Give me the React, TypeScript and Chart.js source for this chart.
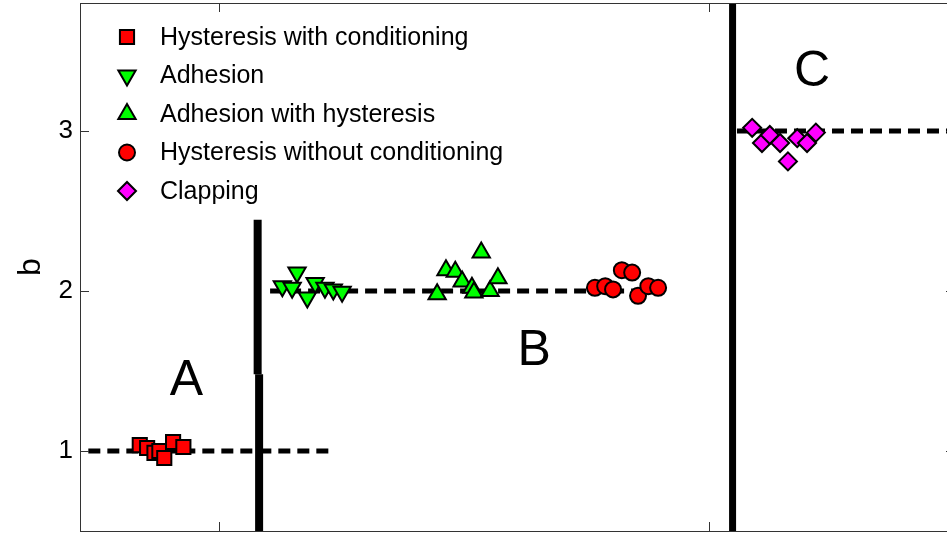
import React, { useEffect, useRef } from 'react';
import { Chart, registerables } from 'chart.js';
import { drawPoint } from 'chart.js/helpers';

Chart.register(...registerables);

// ---------- data ----------
const SERIES_NAMES = [
  'Hysteresis with conditioning',
  'Adhesion',
  'Adhesion with hysteresis',
  'Hysteresis without conditioning',
  'Clapping',
];

const hystCondX = [0.838, 0.853, 0.868, 0.878, 0.888, 0.906, 0.927];
const hystCondY = [1.037, 1.019, 0.988, 1.0, 0.956, 1.056, 1.025];

const adhesionX = [1.129, 1.159, 1.149, 1.180, 1.196, 1.216, 1.233, 1.251];
const adhesionY = [2.03, 2.115, 2.02, 1.96, 2.05, 2.02, 2.01, 1.995];

const adhHystX = [1.445, 1.463, 1.482, 1.496, 1.516, 1.520, 1.535, 1.553, 1.569];
const adhHystY = [1.98, 2.13, 2.12, 2.06, 2.02, 1.99, 2.24, 2.0, 2.08];

const hystNoCondX = [1.767, 1.788, 1.804, 1.822, 1.843, 1.855, 1.876, 1.896];
const hystNoCondY = [2.02, 2.03, 2.01, 2.13, 2.115, 1.97, 2.03, 2.02];

const clappingX = [2.088, 2.108, 2.124, 2.145, 2.161, 2.180, 2.200, 2.218];
const clappingY = [3.02, 2.925, 2.975, 2.925, 2.81, 2.955, 2.925, 2.99];

// reference (dashed) levels: [xStart, xEnd, level]
const levelA = [0.733, 1.227, 1];
const levelB = [1.104, 1.904, 2];
const levelC = [2.057, 2.502, 3];

// regime separators: [x, yStart, yEnd]
const sepUpper = [1.0786, 2.445, 1.48];
const sepLower = [1.0816, 1.48, 0.5];
const sepRight = [2.048, 0.5, 3.8];

// region labels
const regionText = ['A', 'B', 'C'];
const regionX = [0.933, 1.643, 2.21];
const regionY = [1.449, 1.636, 3.38];

const Y_TICKS = [1, 2, 3];
const X_TICKS = [1, 2];
const X_MIN = 0.716;
const X_MAX = 2.502;
const Y_MIN = 0.5;
const Y_MAX = 3.8;
const Y_TITLE = 'b';

const FONT = '"Liberation Sans", Arial, sans-serif';

const zip = (xs: number[], ys: number[]) => xs.map((x, i) => ({ x, y: ys[i] }));

const markerSets = [
  { name: SERIES_NAMES[0], data: zip(hystCondX, hystCondY), pointStyle: 'rect', radius: 10, rotation: 0, color: '#ff0000' },
  { name: SERIES_NAMES[1], data: zip(adhesionX, adhesionY), pointStyle: 'triangle', radius: 10, rotation: 180, color: '#00ff00' },
  { name: SERIES_NAMES[2], data: zip(adhHystX, adhHystY), pointStyle: 'triangle', radius: 10, rotation: 0, color: '#00ff00' },
  { name: SERIES_NAMES[3], data: zip(hystNoCondX, hystNoCondY), pointStyle: 'circle', radius: 8, rotation: 0, color: '#ff0000' },
  { name: SERIES_NAMES[4], data: zip(clappingX, clappingY), pointStyle: 'rectRot', radius: 9, rotation: 0, color: '#ff00ff' },
];

const dashed = (l: number[]) => ({
  type: 'line' as const,
  data: [{ x: l[0], y: l[2] }, { x: l[1], y: l[2] }],
  borderColor: '#000',
  borderWidth: 5,
  borderDash: [12, 7],
  pointRadius: 0,
  showLine: true,
  fill: false,
  order: 2,
});

const vline = (l: number[], w: number) => ({
  type: 'line' as const,
  data: [{ x: l[0], y: l[1] }, { x: l[0], y: l[2] }],
  borderColor: '#000',
  borderWidth: w,
  borderCapStyle: 'butt' as const,
  pointRadius: 0,
  showLine: true,
  fill: false,
  order: 3,
});

const framePlugin = {
  id: 'frame',
  afterDraw(chart: any) {
    const { ctx, chartArea: a, scales } = chart;
    const xs = scales.x;
    const ys = scales.y;
    ctx.save();
    // region labels
    ctx.fillStyle = '#000';
    ctx.font = `50px ${FONT}`;
    ctx.textAlign = 'center';
    ctx.textBaseline = 'middle';
    regionText.forEach((t, i) => {
      ctx.fillText(t, xs.getPixelForValue(regionX[i]), ys.getPixelForValue(regionY[i]) + 2);
    });
    // legend
    const lx = 127;
    const tx = 160;
    const ly0 = 37;
    const dy = 38.5;
    ctx.font = `25px ${FONT}`;
    ctx.textAlign = 'left';
    markerSets.forEach((m, i) => {
      const y = ly0 + i * dy;
      ctx.fillStyle = m.color;
      ctx.strokeStyle = '#000';
      ctx.lineWidth = 2;
      drawPoint(ctx, { pointStyle: m.pointStyle as any, radius: m.radius, rotation: m.rotation, borderWidth: 2 } as any, lx, y);
      ctx.fillStyle = '#000';
      ctx.fillText(m.name, tx, y + 1);
    });
    // box
    ctx.strokeStyle = '#333';
    ctx.lineWidth = 1;
    ctx.strokeRect(Math.round(a.left) + 0.5, Math.round(a.top) + 0.5, Math.round(a.right - a.left), Math.round(a.bottom - a.top));
    // inward ticks
    const tl = 9;
    ctx.beginPath();
    Y_TICKS.forEach((v) => {
      const y = Math.round(ys.getPixelForValue(v)) + 0.5;
      ctx.moveTo(a.left, y); ctx.lineTo(a.left + tl, y);
      ctx.moveTo(a.right, y); ctx.lineTo(a.right - tl, y);
    });
    X_TICKS.forEach((v) => {
      const x = Math.round(xs.getPixelForValue(v)) + 0.5;
      ctx.moveTo(x, a.top); ctx.lineTo(x, a.top + tl);
      ctx.moveTo(x, a.bottom); ctx.lineTo(x, a.bottom - tl);
    });
    ctx.stroke();
    // y title
    ctx.fillStyle = '#000';
    ctx.font = `32px ${FONT}`;
    ctx.translate(31, (a.top + a.bottom) / 2);
    ctx.rotate(-Math.PI / 2);
    ctx.textAlign = 'center';
    ctx.textBaseline = 'middle';
    ctx.fillText(Y_TITLE, 0, 0);
    ctx.restore();
  },
};

export default function App() {
  const ref = useRef<HTMLCanvasElement>(null);
  useEffect(() => {
    if (!ref.current) return;
    const chart = new Chart(ref.current, {
      type: 'scatter',
      data: {
        datasets: [
          ...markerSets.map((m) => ({
            type: 'scatter' as const,
            label: m.name,
            data: m.data,
            pointStyle: m.pointStyle as any,
            pointRadius: m.radius,
            pointRotation: m.rotation,
            backgroundColor: m.color,
            borderColor: '#000',
            borderWidth: 2,
            order: 1,
          })),
          dashed(levelA),
          dashed(levelB),
          dashed(levelC),
          vline(sepUpper, 8),
          vline(sepLower, 8),
          vline(sepRight, 7),
        ] as any,
      },
      options: {
        animation: false,
        responsive: false,
        maintainAspectRatio: false,
        layout: { autoPadding: false, padding: { left: 0, right: 15, top: 3, bottom: 3 } },
        plugins: { legend: { display: false }, tooltip: { enabled: false } },
        scales: {
          x: { type: 'linear', display: false, min: X_MIN, max: X_MAX },
          y: {
            type: 'linear',
            min: Y_MIN,
            max: Y_MAX,
            grid: { display: false, drawTicks: false },
            border: { display: false },
            ticks: { color: '#000', font: { size: 26, family: FONT }, padding: 7 },
            afterBuildTicks: (s: any) => { s.ticks = Y_TICKS.map((v) => ({ value: v })); },
            afterFit: (s: any) => { s.width = 80; s.paddingTop = 0; s.paddingBottom = 0; },
          },
        },
      },
      plugins: [framePlugin],
    });
    return () => chart.destroy();
  }, []);
  return (
    <div style={{ position: 'fixed', left: 0, top: 0, width: 947, height: 534, overflow: 'hidden', background: '#fff' }}>
      <canvas ref={ref} width={970} height={534} style={{ display: 'block', width: 970, height: 534 }} />
    </div>
  );
}
